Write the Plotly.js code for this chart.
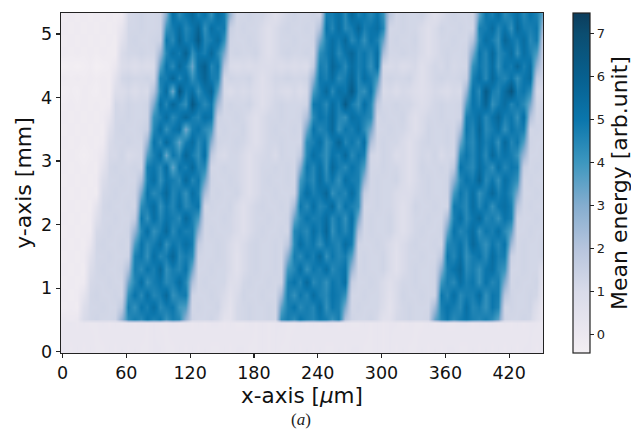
<!DOCTYPE html>
<html><head><meta charset="utf-8">
<script src="https://cdn.plot.ly/plotly-3.0.1.min.js"></script>
<style>html,body{margin:0;padding:0;background:#fff}</style></head>
<body><div id="chart" style="width:631px;height:437px"></div>
<script>
const xTicks = [0,60,120,180,240,300,360,420];
const yTicks = [0,1,2,3,4,5];
const cbTicks = [0,1,2,3,4,5,6,7];
const yRows = [0.05,0.45,0.52,0.7,0.9,1.1,1.3,1.5,1.7,1.9,2.1,2.3,2.5,2.7,2.9,3.1,3.3,3.5,3.7,3.9,4.1,4.3,4.5,4.7,4.9,5.1,5.3];
const colorStops = [[0,'#f3eff3'],[0.053,'#ece8f0'],[0.18,'#d9dbe9'],[0.306,'#b7c5dd'],[0.433,'#85adcf'],[0.56,'#3d97bf'],[0.686,'#0b76ac'],[0.81,'#07608f'],[0.939,'#0b4d70'],[1,'#0c3d5c']];
const energy = [
[.2,.1,.2,.1,.2,.1,.1,.2,.1,.2,.1,.2,.1,.1,.2,.2,.1,.1,.2,.1,.2,.1,.2,.1,.1,.2,.1,.2,.2,.1,.1,.2,.1,.2,.1,.1,.2,.1,.2,.1,.2,.1,.1,.2,.1,.2,.2,.1,.1,.2,.1,.2,.1,.2,.1,.1,.2,.1,.2,.1,.2,.2,.1,.1,.2,.1,.2,.1,.2,.1,.2,.1,.2,.2,.1,.2],
[.1,.2,.1,.2,.1,.1,.2,.1,.2,.1,.2,.1,.2,.1,.2,.1,.1,.2,.1,.2,.1,.2,.1,.2,.2,.1,.2,.1,.1,.2,.1,.2,.1,.2,.2,.1,.1,.2,.1,.2,.1,.2,.2,.1,.2,.1,.1,.2,.1,.2,.1,.2,.2,.1,.2,.1,.1,.2,.1,.2,.1,.1,.2,.2,.1,.2,.1,.2,.1,.2,.1,.2,.1,.2,.2,.1],
[.1,0,.1,1,1.2,1.3,1.2,1.2,1.3,2.7,4.4,4.8,4.5,5.1,4.7,5,4.2,4.8,4.5,2.8,1.3,1.2,1.2,1.3,1.1,.5,.5,1.1,1.2,1.3,1.2,1.2,1.3,1.2,4.3,4.8,4.4,5.1,4.7,4.5,5,4.8,4.2,4.8,2.1,1.3,1.2,1.2,1.3,1.1,.6,.6,1.1,1.2,1.3,1.2,1.2,1.3,3.4,4.5,5,4.4,4.8,5.1,4.7,4.5,4.8,4.4,3.6,1.3,1.2,1.2,1.3,1.2,.6,.2],
[-.2,-.1,-.2,.8,1.2,1.2,1.3,1.2,1.2,1.7,4.8,4.2,5.1,4.7,5.4,4.4,4.8,5,4,3.8,1.2,1.3,1.2,1.2,1.3,.8,.5,1.1,1.2,1.3,1.2,1.2,1.3,1.2,3.5,4.7,5.1,4.4,4.8,4.5,5.3,4.2,5,4.7,3.1,1.2,1.3,1.2,1.2,1.2,.9,.5,1,1.2,1.3,1.2,1.2,1.2,2.4,4.7,5.1,4.8,4.4,5.3,4.5,4.8,4.2,5,4.6,1.2,1.3,1.2,1.2,1.3,.8,.1],
[-.1,-.2,-.1,.4,1.2,1.3,1.2,1.2,1.3,1.2,4.2,5.1,4.4,5.3,4.5,4.8,5.6,4.2,4.7,4.9,1.3,1.2,1.2,1.3,1.2,1,.6,1,1.3,1.2,1.2,1.3,1.2,1.2,2.4,4.8,4.2,5,4.5,5.4,4.7,4.4,5.1,4.8,4.2,1.2,1.2,1.3,1.2,1.2,1,.6,1,1.3,1.2,1.2,1.3,1.2,1.3,5,4.5,5.3,4.4,4.8,4.7,5.4,4.2,5,4.8,1.9,1.3,1.2,1.2,1.3,1.2,.2],
[-.2,-.1,-.2,-.1,1.1,1.2,1.2,1.3,1.2,1.2,3.3,4.5,5.3,4.2,4.8,5.1,4.4,4.7,5.4,4.5,2.2,1.2,1.3,1.2,1.2,1.2,.8,.8,1.2,1.3,1.2,1.2,1.3,1.2,1.3,4.7,5.1,4.5,5.6,4.4,4.8,4.2,5,4.7,5.3,1.5,1.2,1.2,1.3,1.2,1,.7,1,1.2,1.2,1.3,1.2,1.2,1.3,4,4.8,4.4,5.3,4.7,5,4.2,5.1,4.5,4.8,3,1.2,1.3,1.2,1.2,1.3,.4],
[-.1,-.2,-.1,-.2,.9,1.2,1.3,1.2,1.2,1.3,2.2,4.8,4.4,5.1,4.7,5.6,4.2,4.8,4.5,5.1,3.3,1.2,1.2,1.3,1.2,1.2,1,.6,1,1.2,1.3,1.2,1.2,1.3,1.2,4,4.5,5.3,4.2,5,4.7,5.4,4.4,4.8,5.1,2.6,1.2,1.3,1.2,1.2,1.3,1,.6,1,1.2,1.3,1.2,1.2,1.3,2.9,4.7,5.1,5.6,4.4,4.8,4.2,5,5.3,4.5,4.1,1.2,1.2,1.3,1.2,1.2,.7],
[-.2,-.1,-.2,-.1,.6,1.2,1.2,1.3,1.2,1.2,1.3,4.7,5,4.2,5.3,4.5,4.8,5.7,4.4,4.8,4.4,1.3,1.2,1.2,1.3,1.2,1,.6,1,1.2,1.3,1.2,1.2,1.3,1.2,2.9,4.8,4.4,5.1,4.7,5.6,4.2,5,4.5,4.8,3.7,1.2,1.3,1.2,1.2,1.3,1,.6,1,1.2,1.2,1.3,1.2,1.2,1.8,5,4.5,5.3,4.2,4.8,5.1,4.4,5.4,4.7,4.8,1.4,1.2,1.3,1.2,1.2,1.3],
[-.1,-.2,-.1,-.2,.2,1.2,1.3,1.2,1.2,1.3,1.2,3.8,5.1,4.4,4.8,5.4,4.2,5,4.7,5.3,4.8,1.7,1.2,1.2,1.3,1.2,1,.7,1,1.2,1.3,1.2,1.2,1.3,1.2,1.8,4.4,5.3,4.7,5,4.2,5.1,4.8,4.5,5.4,4.8,1.3,1.2,1.2,1.3,1.2,1,.7,1,1.2,1.3,1.2,1.2,1.3,1.2,4.5,4.7,5.1,4.4,5.6,4.8,4.2,5,4.5,5.1,2.5,1.2,1.3,1.2,1.2,1.3],
[-.2,-.1,-.2,-.1,-.1,1.1,1.2,1.3,1.2,1.2,1.3,2.7,4.5,5.3,4.2,4.8,5.6,4.4,5.1,4.7,4.8,2.8,1.2,1.3,1.2,1.2,1.2,1,.7,1,1.2,1.3,1.2,1.2,1.3,1.2,4.5,4.8,4.4,5.3,4.7,5.7,4.2,5,4.5,5.1,2.1,1.2,1.3,1.2,1.2,1.3,1,.7,1,1.2,1.3,1.2,1.2,1.3,3.4,5.1,4.5,4.8,5.4,4.2,5,4.7,5.3,4.4,3.6,1.2,1.2,1.3,1.2,1.2],
[-.1,-.2,-.1,-.2,-.1,.7,1.2,1.2,1.3,1.2,1.2,1.6,5,4.2,5.3,4.5,5.1,4.8,4.4,5.6,4.7,3.9,1.3,1.2,1.2,1.3,1.2,1,.7,1,1.2,1.2,1.3,1.2,1.2,1.3,3.4,4.5,5.1,4.7,4.8,5.4,4.4,5,4.2,5.3,3.2,1.2,1.3,1.2,1.2,1.3,1,.7,1,1.2,1.2,1.3,1.2,1.2,2.3,4.7,5.3,4.4,5,5.6,4.5,4.8,4.2,5.1,4.7,1.3,1.2,1.2,1.3,1.2],
[-.2,-.1,-.2,-.1,-.2,.4,1.2,1.3,1.2,1.2,1.3,1.2,4.3,4.8,5.4,4.2,5,4.5,5.3,4.4,4.8,5.1,1.2,1.3,1.2,1.2,1.3,1,.7,1,1.2,1.3,1.2,1.2,1.3,1.2,2.3,5,4.4,5.3,4.5,4.8,5.6,4.2,5.1,4.7,4.3,1.2,1.2,1.3,1.2,1.2,1,.7,1,1.3,1.2,1.2,1.3,1.2,1.2,4.9,4.8,4.4,5.4,4.5,5.1,4.2,5,5.3,4.7,2,1.2,1.3,1.2,1.2],
[-.1,-.2,-.1,-.2,-.1,-.2,1.1,1.2,1.3,1.2,1.2,1.3,3.2,5.1,4.4,4.8,5.6,4.5,5,4.2,5.3,4.7,2.3,1.2,1.3,1.2,1.2,1.3,1,.7,1,1.2,1.2,1.3,1.2,1.2,1.3,4.4,5.3,4.7,5,5.7,4.2,4.8,4.5,5.4,4.4,1.6,1.2,1.3,1.2,1.2,1,.9,.9,1.1,1.2,1.3,1.2,1.2,1.3,3.9,5,4.5,5.3,4.2,4.8,5.6,4.7,5.1,4.4,3.1,1.2,1.2,1.3,1.2],
[-.2,-.1,-.2,-.1,-.2,-.1,.9,1.2,1.2,1.3,1.2,1.2,2.1,4.7,5.3,4.2,5.1,4.8,4.4,5.6,4.5,5,3.4,1.3,1.2,1.2,1.3,1.2,1,.7,1,1.2,1.3,1.2,1.2,1.3,1.2,3.9,4.8,4.4,5.4,4.5,5,4.2,5.3,4.8,4.7,2.7,1.2,1.3,1.2,1.2,1.3,1,.7,1,1.2,1.3,1.2,1.2,1.3,2.8,4.5,5.1,4.8,5.8,4.4,5,4.2,5.3,4.7,4.2,1.2,1.3,1.2,1.2],
[-.1,-.2,-.1,-.2,-.1,-.2,.5,1.2,1.3,1.2,1.2,1.3,1.2,4.8,5,4.4,5.4,3.5,5.1,4.7,5.6,4.5,4.5,1.2,1.2,1.3,1.2,1.2,1,.7,1,1.2,1.2,1.3,1.2,1.3,1.2,2.8,5,4.5,5.3,4.2,5.6,4.8,4.4,5.1,4.7,3.8,1.2,1.2,1.3,1.2,1.2,1,.7,1,1.3,1.2,1.2,1.3,1.2,1.7,5.1,4.7,4.4,5.4,4.8,4.2,5.3,4.5,5,4.8,1.5,1.2,1.3,1.2],
[-.2,-.1,-.2,-.3,-.2,-.1,.2,1.1,1.1,1.3,1,1.1,1.2,3.7,4.7,5.4,3.4,5,4.4,5.7,4.8,4.2,5.3,1.8,1.1,1,1.2,1.2,1,.7,1,1.1,1.2,1,1.3,1.2,1.2,1.7,4.5,5.3,4.8,4.2,5.1,4.7,5.6,4.4,5,4.7,1.2,1.1,1.3,1.2,.9,1,.7,1,1.2,1.1,1.3,1,1.2,1.2,4.4,5,4.5,5.3,4.4,5.6,4.7,5.1,4.8,4.2,2.6,1.2,1.2,1.3],
[-.1,-.2,-.1,-.2,-.1,-.2,-.1,1,1.2,1.2,1.3,1.2,1.2,2.6,5.1,4.4,5.6,4.7,3.5,4.8,5.4,4.4,5,2.9,1.3,1.2,1.2,1.3,1.2,1,.7,1,1.2,1.2,1.3,1.2,1.2,1.2,4.4,4.7,5.3,4.2,4.8,5.8,4.5,5,4.4,5.3,2.2,1.2,1.3,1.2,1.2,1,.7,1,1.2,1.3,1.2,1.2,1.3,1.2,3.3,4.8,4.4,5.4,4.7,5.1,4.2,5.6,4.5,5,3.7,1.3,1.2,1.2],
[-.2,-.1,-.2,-.1,-.2,-.1,-.2,.7,1.2,1.3,1.2,1.2,1.3,1.5,4.5,5.3,4.2,5,5.4,3.2,4.8,5.1,4.4,4,1.2,1.3,1.2,1.2,1.3,1,.7,1,1.2,1.3,1.2,1.2,1.3,1.2,3.3,5.1,4.5,4.8,5.6,4.2,5,4.7,5.3,4.4,3.3,1.2,1.2,1.3,1.2,1.2,1,.7,1,1.3,1.2,1.2,1.3,1.2,2.2,5,4.5,5.7,4.4,4.8,5.3,4.2,5.1,4.7,4.8,1.2,1.3,1.2],
[-.1,-.2,-.1,-.2,-.1,-.2,-.1,.3,1.2,1.2,1.3,1.2,1.2,1.3,4.2,4.7,5.4,4.4,5,5.7,4.8,4.5,5.3,5,1.4,1.2,1.2,1.3,1.2,1,.7,1,1.2,1.2,1.3,1.2,1.2,1.3,2.2,4.4,5.1,4.8,5.6,4.5,4.2,5.3,5,4.7,4.4,1.2,1.3,1.2,1.2,1.3,1,.7,1,1.2,1.2,1.3,1.2,1.2,1.3,4.8,4.8,5.4,4.4,5.1,5.7,4.7,5,4.2,5.3,2.1,1.2,1.3],
[-.2,-.1,-.2,-.1,-.2,-.1,-.2,-.1,1.2,1.1,1.3,1.2,1.2,1.3,3.1,5.3,4.5,5.7,4.8,4.2,6.3,5.1,4.4,5,2.5,1.2,1.3,1.2,1.2,1.3,1,.7,1,1.2,1.3,1.2,1.2,1.2,1.3,4.9,5,4.4,5.4,4.7,6.2,4.8,4.2,5.3,4.5,1.7,1.2,1.2,1.3,1.2,1.2,1,.8,1,1.2,1.3,1.2,1.2,1.3,3.7,5.1,4.7,5.8,4.2,4.8,5.4,4.5,5,4.4,3.2,1.2,1.2],
[-.3,-.2,-.3,-.1,-.2,-.3,-.1,-.2,.8,.9,1.1,.9,1.1,1,2,4.5,5.4,3.3,6.4,4.8,5.3,4.2,5.1,5.7,3.6,1.1,.9,1.1,1,1.1,.9,.7,.9,1.1,1,.9,1.1,.9,1.1,3.8,4.8,5.6,4.4,5.3,5,6.2,4.5,4.2,5.1,2.8,1,1.1,.9,1.1,1,.8,.7,.9,1.1,1,.9,1.1,1,2.6,5.1,4.4,6.2,4.8,4.5,5.4,6.5,4.7,5,4.3,1.1,1],
[-.1,-.2,-.1,-.2,-.1,-.2,-.1,-.2,.5,1.2,1.3,1.2,1.2,1.3,1.2,4.7,4.8,5.7,4.5,5.3,4.2,5,5.8,4.8,4.7,1.2,1.3,1.2,1.2,1.3,1,.7,1,1.2,1.2,1.3,1.2,1.2,1.3,2.7,5,4.7,5.4,4.4,4.8,5.7,4.5,5.3,4.8,3.9,1.2,1.3,1.2,1.2,1.3,1,.7,1,1.2,1.3,1.2,1.2,1.3,1.5,4.7,5.3,4.4,5.6,4.8,4.5,5.1,4.2,5,5.4,1.6,1.2],
[-.4,-.3,-.4,-.3,-.2,-.4,-.3,-.2,.1,.9,1,.8,1,.9,1,3.6,5.1,4.4,5.6,4.8,3.4,5.3,6,4.5,5,2,1,.9,1,.9,1,.9,.9,1,.9,1,.9,1,.9,1.6,4.8,4.5,5.7,5.1,4.4,5.4,4.7,5,4.2,5.3,1.1,1,1.1,.9,1,1.1,.7,1,1.2,1.1,1.3,1.1,1.2,1.2,4.2,5,4.5,5.4,4.2,5.1,4.8,5.7,4.7,5.3,2.7,1.2],
[-.1,-.2,-.1,-.2,-.1,-.2,-.1,-.2,-.2,1,1.2,1.2,1.3,1.2,1.2,2.5,4.5,5.3,4.8,5.9,4.2,5.1,4.7,5.6,4.5,3.1,1.2,1.3,1.2,1.2,1.3,1,.7,1,1.2,1.3,1.2,1.2,1.3,1.2,4.3,4.8,5.4,4.4,5.1,5.7,4.7,5,4.5,5.3,2.3,1.2,1.2,1.3,1.2,1.2,1,.7,1,1.2,1.3,1.2,1.2,1.3,3.1,5.1,4.5,5.6,4.4,4.8,5.4,4.2,5.3,4.7,3.8,1.2],
[-.2,-.1,-.2,-.1,-.2,-.1,-.2,-.1,-.2,.6,1.2,1.3,1.2,1.2,1.3,1.4,5,4.4,5.7,4.7,5.1,6.2,4.5,4.8,5.4,4.2,1.3,1.2,1.2,1.3,1.2,1,.7,1,1.2,1.2,1.3,1.2,1.2,1.3,3.2,4.7,5.3,4.8,5.6,4.4,5,4.2,5.1,4.7,3.4,1.2,1.3,1.2,1.2,1.3,1,.7,1,1.2,1.2,1.3,1.2,1.2,2,4.5,5.3,4.8,4.2,5.7,5,4.7,5.4,4.4,4.9,1.3],
[-.1,-.2,-.1,-.2,-.1,-.2,-.1,-.2,-.1,.3,1.2,1.2,1.3,1.2,1.2,1.3,4.1,4.8,5.4,4.5,5,5.8,4.2,5.3,4.8,4.9,1.5,1.2,1.3,1.2,1.2,1,.7,1,1.2,1.3,1.2,1.2,1.3,1.2,2.1,5.1,4.5,5.4,4.4,4.8,5.7,4.7,5,5.3,4.5,1.2,1.2,1.3,1.2,1.2,1,.7,1,1.3,1.2,1.2,1.3,1.2,1.2,4.7,4.8,5.4,4.5,5.1,4.2,5.6,4.8,4.7,5,2.2],
[-.2,-.1,-.2,-.1,-.2,-.1,-.2,-.1,-.2,-.1,1.1,1.2,1.3,1.2,1.2,1.3,3,5.3,4.4,5,5.6,4.7,5.1,4.2,5.4,4.8,2.6,1.2,1.2,1.3,1.2,1.2,1,.7,1,1.2,1.3,1.2,1.2,1.3,1.2,4.8,4.8,5.3,4.4,5.6,4.7,5,4.5,5.1,4.2,1.8,1.2,1.3,1.2,1.2,1.3,1,.7,1,1.2,1.3,1.2,1.2,1.3,3.6,5,4.7,5.4,4.4,4.8,5.3,4.5,5.1,4.7,3.3]
];
const titleFont = {family:'DejaVu Sans',size:22,color:'#111'};
const trace = {type:'heatmap',x0:1.6,dx:6,y:yRows,z:energy,zsmooth:'best',zmin:-0.42,zmax:7.48,colorscale:colorStops,
  colorbar:{x:1.062,xanchor:'left',xpad:0,ypad:0,y:0,yanchor:'bottom',len:1,thickness:17,outlinewidth:1.2,outlinecolor:'#222',
    tickvals:cbTicks,ticks:'outside',ticklen:4,tickwidth:1,tickcolor:'#222',tickfont:{family:'DejaVu Sans',size:13,color:'#222'},
    title:{text:'Mean energy [arb.unit]',side:'right',font:titleFont}}};
const axisStyle = {showgrid:false,zeroline:false,showline:true,mirror:true,linecolor:'#222',linewidth:1.3,ticks:'outside',ticklen:4,tickwidth:1.2,tickcolor:'#222',tickfont:{family:'DejaVu Sans',size:17.5,color:'#111'}};
const layout = {width:631,height:437,margin:{l:60.5,r:88.3,t:12.5,b:83.7,autoexpand:false},paper_bgcolor:'#fff',plot_bgcolor:'#fff',
  xaxis:Object.assign({},axisStyle,{range:[-1.4,451.8],tickvals:xTicks,title:{text:'x-axis [<i>μ</i>m]',standoff:4,font:{family:'DejaVu Sans',size:21.5,color:'#111'}}}),
  yaxis:Object.assign({},axisStyle,{range:[-0.02,5.33],tickvals:yTicks,title:{text:'y-axis [mm]',standoff:3,font:titleFont}}),
  annotations:[{text:'(<i>a</i>)',xref:'paper',yref:'paper',x:0.497,y:-0.195,xanchor:'center',yanchor:'middle',showarrow:false,font:{family:'Liberation Serif',size:17,color:'#222'}}]};
Plotly.newPlot('chart',[trace],layout,{displayModeBar:false,staticPlot:true});
</script></body></html>
